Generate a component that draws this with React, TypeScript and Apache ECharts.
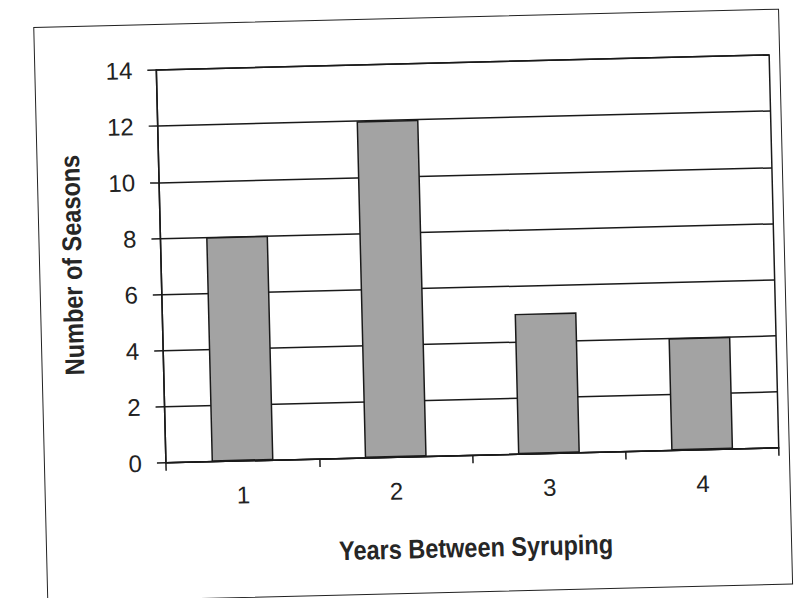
import React, { useEffect, useRef } from "react";
import * as echarts from "echarts";

const categories = ["1", "2", "3", "4"];
const seasons = [8, 12, 5, 4];
const xTitle = "Years Between Syruping";
const yTitle = "Number of Seasons";

export default function App() {
  const ref = useRef<HTMLDivElement>(null);
  useEffect(() => {
    if (!ref.current) return;
    const chart = echarts.init(ref.current, null, { renderer: "svg" });
    const titleFont = "'Liberation Sans', Arial, sans-serif";
    const numFont = "'Liberation Sans', Arial, sans-serif";
    chart.setOption({
      animation: false,
      backgroundColor: "transparent",
      grid: {
        left: 162,
        right: 28,
        top: 64,
        bottom: 141,
        show: true,
        borderColor: "#1a1a1a",
        borderWidth: 1.5,
        backgroundColor: "transparent",
      },
      graphic: [
        {
          type: "text",
          x: 470,
          y: 549,
          scaleX: 0.87,
          style: {
            text: xTitle,
            fontFamily: titleFont,
            fontWeight: "bold",
            fontSize: 27,
            fill: "#262626",
            align: "center",
            verticalAlign: "middle",
          },
        },
        {
          type: "text",
          x: 73,
          y: 257,
          rotation: Math.PI / 2,
          scaleX: 0.87,
          style: {
            text: yTitle,
            fontFamily: titleFont,
            fontWeight: "bold",
            fontSize: 27,
            fill: "#262626",
            align: "center",
            verticalAlign: "middle",
          },
        },
      ],
      xAxis: {
        type: "category",
        data: categories,
        boundaryGap: true,
        axisLine: { show: true, lineStyle: { color: "#1a1a1a", width: 1.5 } },
        axisTick: { show: true, alignWithLabel: false, length: 8, lineStyle: { color: "#1a1a1a", width: 1.5 } },
        axisLabel: { fontFamily: numFont, fontSize: 24, color: "#222", margin: 22 },
        splitLine: { show: false },
      },
      yAxis: {
        type: "value",
        min: 0,
        max: 14,
        interval: 2,
        axisLine: { show: true, lineStyle: { color: "#1a1a1a", width: 1.5 } },
        axisTick: { show: true, inside: false, length: 9, lineStyle: { color: "#1a1a1a", width: 1.5 } },
        axisLabel: { fontFamily: numFont, fontSize: 24, color: "#222", margin: 24 },
        splitLine: { show: true, lineStyle: { color: "#1a1a1a", width: 1.5 } },
      },
      series: [
        {
          type: "bar",
          data: seasons,
          barWidth: 62,
          itemStyle: { color: "#a3a3a3", borderColor: "#1a1a1a", borderWidth: 1.5 },
        },
      ],
    });
    return () => chart.dispose();
  }, []);

  return (
    <div style={{ position: "fixed", left: 0, top: 0, width: 803, height: 598, overflow: "hidden", background: "#fff" }}>
      <div
        style={{
          position: "absolute",
          left: 0,
          top: 0,
          width: 803,
          height: 598,
          transform: "rotate(-1.4deg)",
          transformOrigin: "401.5px 299px",
        }}
      >
        <div
          style={{
            position: "absolute",
            left: 40,
            top: 18,
            width: 746,
            height: 576,
            border: "1.5px solid #222",
            boxSizing: "border-box",
          }}
        />
        <div ref={ref} style={{ position: "absolute", left: 0, top: 0, width: 803, height: 598 }} />
      </div>
    </div>
  );
}
